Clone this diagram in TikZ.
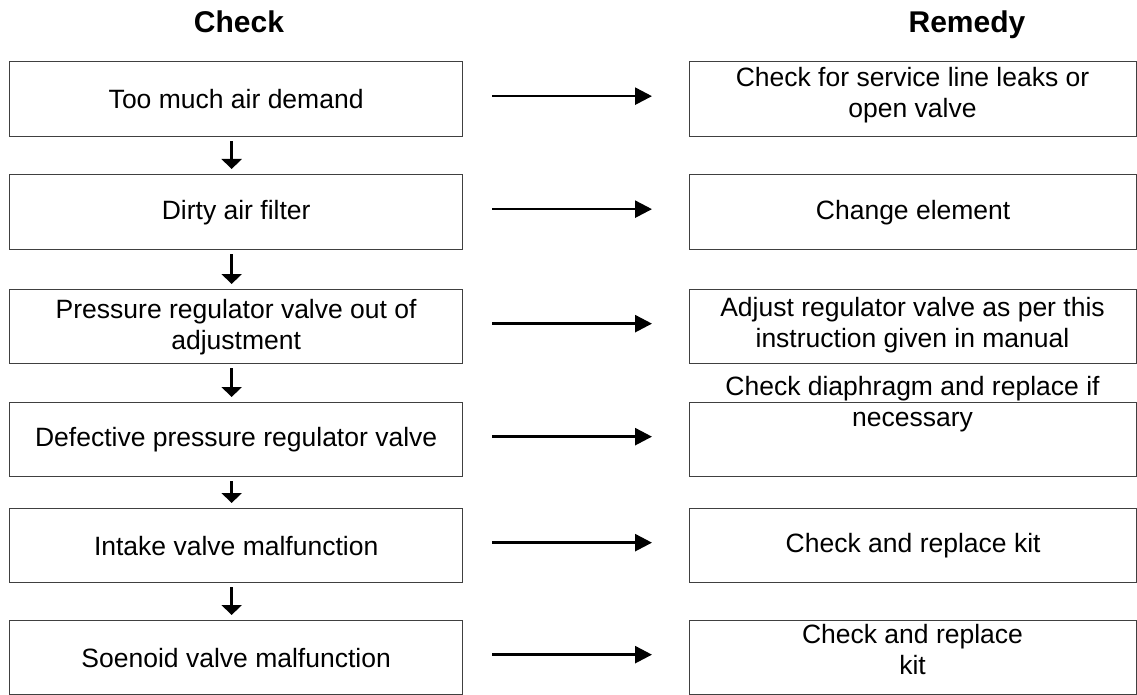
\documentclass[tikz,border=0pt]{standalone}
\usepackage{fontspec}
\setmainfont{Liberation Sans}
\usetikzlibrary{arrows.meta}
\begin{document}
\begin{tikzpicture}[x=1pt,y=-1pt,
  lbox/.style={draw=black!75, line width=1.3pt, minimum width=453pt, inner sep=0pt, anchor=north west},
  rbox/.style={draw=black!75, line width=1.3pt, minimum width=447pt, inner sep=0pt, anchor=north west},
  txt/.style={align=center, inner sep=0pt, font=\fontsize{26.5}{31}\selectfont},
  head/.style={inner sep=0pt, anchor=base, font=\fontsize{30}{34}\selectfont\bfseries},
  harrow/.style={line width=2.6pt, -{Triangle[length=17pt,width=17pt]}, shorten <=29pt, shorten >=37pt},
  varrow/.style={line width=2.4pt, -{Triangle[length=10pt,width=20pt]}, shorten <=4pt, shorten >=5pt}]
\useasboundingbox (0,0) rectangle (1137,695);
\node[head] (hc) at (239,33) {Check};
\node[head] (hr) at (967,33) {Remedy};
% left boxes
\node[lbox, minimum height=75pt] (L1) at (9,61) {};
\node[lbox, minimum height=75pt] (L2) at (9,174) {};
\node[lbox, minimum height=74pt] (L3) at (9,289) {};
\node[lbox, minimum height=74pt] (L4) at (9,402) {};
\node[lbox, minimum height=74pt] (L5) at (9,508) {};
\node[lbox, minimum height=74pt] (L6) at (9,620) {};
% right boxes
\node[rbox, minimum height=75pt] (R1) at (689,61) {};
\node[rbox, minimum height=75pt] (R2) at (689,174) {};
\node[rbox, minimum height=74pt] (R3) at (689,289) {};
\node[rbox, minimum height=74pt] (R4) at (689,402) {};
\node[rbox, minimum height=74pt] (R5) at (689,508) {};
\node[rbox, minimum height=74pt] (R6) at (689,620) {};
% left texts
\node[txt] (t1) at (L1.center) {Too much air demand};
\node[txt] (t2) at (L2.center) {Dirty air filter};
\node[txt] (t3) at (L3.center) {Pressure regulator valve out of\\adjustment};
\node[txt] (t4) at (L4.center) {Defective pressure regulator valve};
\node[txt] (t5) at (L5.center) {Intake valve malfunction};
\node[txt] (t6) at (L6.center) {Soenoid valve malfunction};
% right texts
\node[txt] (r1) at (912.5,95) {Check for service line leaks or\\open valve};
\node[txt] (r2) at (R2.center) {Change element};
\node[txt] (r3) at (912.5,325) {Adjust regulator valve as per this\\instruction given in manual};
\node[txt] (r4) at (912.5,404) {Check diaphragm and replace if\\necessary};
\node[txt] (r5) at (R5.center) {Check and replace kit};
\node[txt] (r6) at (912.5,649) {Check and replace\\kit};
% horizontal arrows
\foreach \i in {1,...,6} {\draw[harrow] ([yshift=3pt]L\i.east) -- ([yshift=3pt]L\i.east -| R\i.west);}
% vertical arrows
\foreach \i/\j in {1/2,2/3,3/4,4/5,5/6} {\draw[varrow] ([xshift=-4.5pt]L\i.south) -- ([xshift=-4.5pt]L\j.north);}
\end{tikzpicture}
\end{document}
